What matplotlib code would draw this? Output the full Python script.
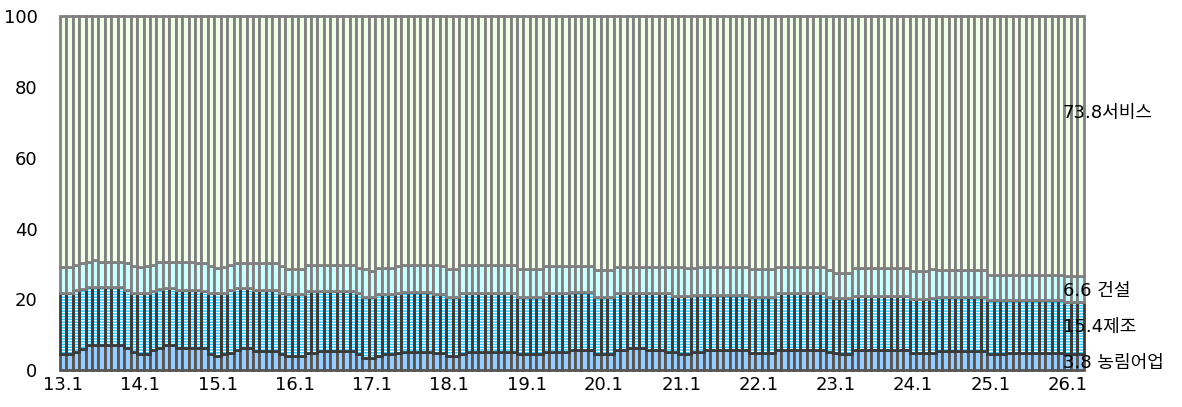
import matplotlib
matplotlib.use("Agg")
import matplotlib.pyplot as plt
import numpy as np

plt.rcParams['font.family'] = ['DejaVu Sans', 'Noto Sans CJK KR']
plt.rcParams['hatch.linewidth'] = 0.9

# monthly categories 13.1 ~ 26.3
months = [f"{y}.{m}" for y in range(13, 27) for m in range(1, 13)][:159]
tick_pos = [0, 12, 24, 36, 48, 60, 72, 84, 96, 108, 120, 132, 144, 156]
tick_labels = ["13.1", "14.1", "15.1", "16.1", "17.1", "18.1", "19.1",
               "20.1", "21.1", "22.1", "23.1", "24.1", "25.1", "26.1"]

# share of employment (%)
agri = [
    4.6, 4.6, 5.3, 5.9, 7.0, 7.0, 7.0, 7.0, 7.0, 7.0, 6.2, 5.3,
    4.6, 4.6, 5.7, 6.2, 7.0, 7.0, 6.2, 6.2, 6.2, 6.2, 6.2, 4.6,
    4.0, 4.6, 5.0, 5.7, 6.2, 6.2, 5.5, 5.5, 5.5, 5.5, 4.6, 3.9,
    3.9, 3.9, 5.0, 5.0, 5.5, 5.5, 5.5, 5.5, 5.5, 5.5, 4.6, 3.6,
    3.6, 4.0, 4.6, 4.6, 5.0, 5.3, 5.3, 5.3, 5.3, 5.3, 4.8, 4.8,
    3.9, 3.9, 4.6, 5.3, 5.3, 5.3, 5.3, 5.3, 5.3, 5.3, 5.3, 4.6,
    4.6, 4.6, 4.6, 5.3, 5.3, 5.3, 5.3, 5.7, 5.7, 5.7, 5.7, 4.6,
    4.6, 4.6, 5.7, 5.7, 6.2, 6.2, 6.2, 5.7, 5.7, 5.7, 5.3, 5.3,
    4.6, 4.6, 5.1, 5.1, 5.7, 5.7, 5.7, 5.7, 5.7, 5.7, 5.7, 5.0,
    5.0, 5.0, 5.0, 5.7, 5.7, 5.7, 5.7, 5.7, 5.7, 5.7, 5.7, 5.3,
    5.0, 4.6, 4.6, 5.7, 5.7, 5.7, 5.7, 5.7, 5.7, 5.7, 5.7, 5.7,
    4.8, 4.8, 4.8, 5.0, 5.5, 5.5, 5.5, 5.5, 5.5, 5.5, 5.5, 5.5,
    4.6, 4.6, 4.6, 5.0, 5.0, 5.0, 5.0, 5.0, 5.0, 5.0, 5.0, 4.8,
    4.6, 4.6, 4.6,
]
manuf = [
    17.3, 17.3, 17.3, 17.1, 16.4, 16.4, 16.4, 16.4, 16.4, 16.4, 16.6, 16.6,
    17.3, 17.3, 16.7, 16.8, 16.3, 16.3, 16.4, 16.4, 16.4, 16.4, 16.2, 17.3,
    17.9, 17.3, 17.7, 17.4, 16.9, 16.9, 17.2, 17.2, 17.2, 17.2, 17.3, 17.6,
    17.6, 17.6, 17.4, 17.4, 16.9, 16.9, 16.9, 16.9, 16.9, 16.9, 17.3, 17.2,
    17.2, 17.5, 16.9, 16.9, 16.9, 16.9, 16.9, 16.9, 16.9, 16.9, 16.7, 16.7,
    16.9, 16.9, 17.3, 16.6, 16.6, 16.6, 16.6, 16.6, 16.6, 16.6, 16.6, 16.2,
    16.2, 16.2, 16.2, 16.6, 16.6, 16.6, 16.6, 16.3, 16.3, 16.3, 16.3, 16.0,
    16.0, 16.0, 16.0, 16.0, 15.5, 15.5, 15.5, 16.0, 16.0, 16.0, 16.4, 15.8,
    16.5, 16.5, 16.2, 16.2, 15.6, 15.6, 15.6, 15.6, 15.6, 15.6, 15.6, 15.8,
    15.8, 15.8, 15.8, 16.2, 16.2, 16.2, 16.2, 16.2, 16.2, 16.2, 16.2, 15.5,
    15.3, 15.7, 15.7, 15.4, 15.4, 15.4, 15.4, 15.4, 15.4, 15.4, 15.4, 15.4,
    15.2, 15.2, 15.2, 15.4, 15.3, 15.3, 15.3, 15.3, 15.3, 15.3, 15.3, 15.3,
    15.3, 15.3, 15.3, 14.9, 14.9, 14.9, 14.9, 14.9, 14.9, 14.9, 14.9, 15.1,
    14.8, 14.8, 14.8,
]
cons = [
    7.2, 7.2, 7.1, 7.2, 7.3, 7.7, 7.3, 7.3, 7.3, 7.3, 7.4, 7.4,
    7.2, 7.4, 7.3, 7.5, 7.2, 7.2, 7.9, 7.9, 7.9, 7.6, 7.8, 7.4,
    7.0, 7.2, 7.0, 7.1, 7.1, 7.1, 7.5, 7.5, 7.5, 7.5, 7.4, 7.1,
    7.1, 7.1, 7.3, 7.3, 7.3, 7.3, 7.3, 7.3, 7.3, 7.3, 7.0, 7.8,
    7.3, 7.5, 7.5, 7.5, 7.5, 7.5, 7.5, 7.5, 7.5, 7.5, 8.2, 7.8,
    7.8, 7.8, 7.8, 7.8, 7.8, 7.8, 7.8, 7.8, 7.8, 7.8, 7.8, 7.8,
    7.8, 7.8, 7.8, 7.4, 7.4, 7.4, 7.4, 7.3, 7.3, 7.3, 7.3, 7.7,
    7.7, 7.7, 7.4, 7.4, 7.4, 7.4, 7.4, 7.4, 7.4, 7.4, 7.4, 8.0,
    8.0, 7.7, 7.5, 7.8, 7.8, 7.8, 7.8, 7.8, 7.8, 7.8, 7.8, 7.7,
    7.7, 7.7, 7.7, 7.2, 7.2, 7.2, 7.2, 7.2, 7.2, 7.2, 7.2, 7.5,
    7.3, 7.3, 7.3, 7.7, 7.7, 7.7, 7.7, 7.7, 7.7, 7.7, 7.7, 7.7,
    8.1, 8.1, 8.1, 8.2, 7.5, 7.5, 7.5, 7.5, 7.5, 7.5, 7.5, 7.5,
    7.0, 7.0, 7.0, 7.1, 7.1, 7.1, 7.1, 7.1, 7.1, 7.1, 7.1, 7.1,
    7.1, 7.1, 7.1,
]
serv = [
    70.9, 70.9, 70.3, 69.8, 69.3, 68.9, 69.3, 69.3, 69.3, 69.3, 69.8, 70.7,
    70.9, 70.7, 70.3, 69.5, 69.5, 69.5, 69.5, 69.5, 69.5, 69.8, 69.8, 70.7,
    71.1, 70.9, 70.3, 69.8, 69.8, 69.8, 69.8, 69.8, 69.8, 69.8, 70.7, 71.4,
    71.4, 71.4, 70.3, 70.3, 70.3, 70.3, 70.3, 70.3, 70.3, 70.3, 71.1, 71.4,
    71.9, 71.0, 71.0, 71.0, 70.6, 70.3, 70.3, 70.3, 70.3, 70.3, 70.3, 70.7,
    71.4, 71.4, 70.3, 70.3, 70.3, 70.3, 70.3, 70.3, 70.3, 70.3, 70.3, 71.4,
    71.4, 71.4, 71.4, 70.7, 70.7, 70.7, 70.7, 70.7, 70.7, 70.7, 70.7, 71.7,
    71.7, 71.7, 70.9, 70.9, 70.9, 70.9, 70.9, 70.9, 70.9, 70.9, 70.9, 70.9,
    70.9, 71.2, 71.2, 70.9, 70.9, 70.9, 70.9, 70.9, 70.9, 70.9, 70.9, 71.5,
    71.5, 71.5, 71.5, 70.9, 70.9, 70.9, 70.9, 70.9, 70.9, 70.9, 70.9, 71.7,
    72.4, 72.4, 72.4, 71.2, 71.2, 71.2, 71.2, 71.2, 71.2, 71.2, 71.2, 71.2,
    71.9, 71.9, 71.9, 71.4, 71.7, 71.7, 71.7, 71.7, 71.7, 71.7, 71.7, 71.7,
    73.1, 73.1, 73.1, 73.0, 73.0, 73.0, 73.0, 73.0, 73.0, 73.0, 73.0, 73.0,
    73.5, 73.5, 73.5,
]

# labels at right end (latest values)
end_labels = ["73.8서비스", "6.6 건설", "15.4제조", "3.8 농림어업"]
end_label_y = [72.7, 22.4, 12.2, 2.1]

x = np.arange(len(months))
agri = np.array(agri)
manuf = np.array(manuf)
cons = np.array(cons)
serv = np.array(serv)

fig = plt.figure(figsize=(11.82, 4.07), dpi=100)
ax = fig.add_axes([0.0506, 0.0902, 0.8663, 0.8705])

lw = 2.0
ax.bar(x, agri, width=1.0, color='#99CCFF', edgecolor='#555555', linewidth=lw, clip_on=False)
# manufacturing: cyan with white horizontal stripes, dark outline
ax.bar(x, manuf, bottom=agri, width=1.0, color='#33CCFF', edgecolor='white',
       hatch='------', linewidth=0, clip_on=False)
ax.bar(x, manuf, bottom=agri, width=1.0, facecolor='none', edgecolor='#3a3a3a',
       linewidth=lw, clip_on=False)
ax.bar(x, cons, bottom=agri + manuf, width=1.0, color='#CCFFFF', edgecolor='#808080',
       linewidth=lw, clip_on=False)
ax.bar(x, serv, bottom=agri + manuf + cons, width=1.0, color='#F2FFE8', edgecolor='#808080',
       linewidth=lw, clip_on=False)

ax.set_xlim(-0.5, len(months) - 0.5)
ax.set_ylim(0, 100)
ax.set_yticks([0, 20, 40, 60, 80, 100])
ax.set_xticks(tick_pos)
ax.set_xticklabels(tick_labels)
ax.tick_params(axis='both', length=0, labelsize=13)
ax.tick_params(axis='y', pad=16)
ax.tick_params(axis='x', pad=4)
for s in ax.spines.values():
    s.set_visible(False)

for lab, yy in zip(end_labels, end_label_y):
    ax.text(155.2, yy, lab, ha='left', va='center', fontsize=13, clip_on=False)

fig.savefig("out.png", dpi=100)
